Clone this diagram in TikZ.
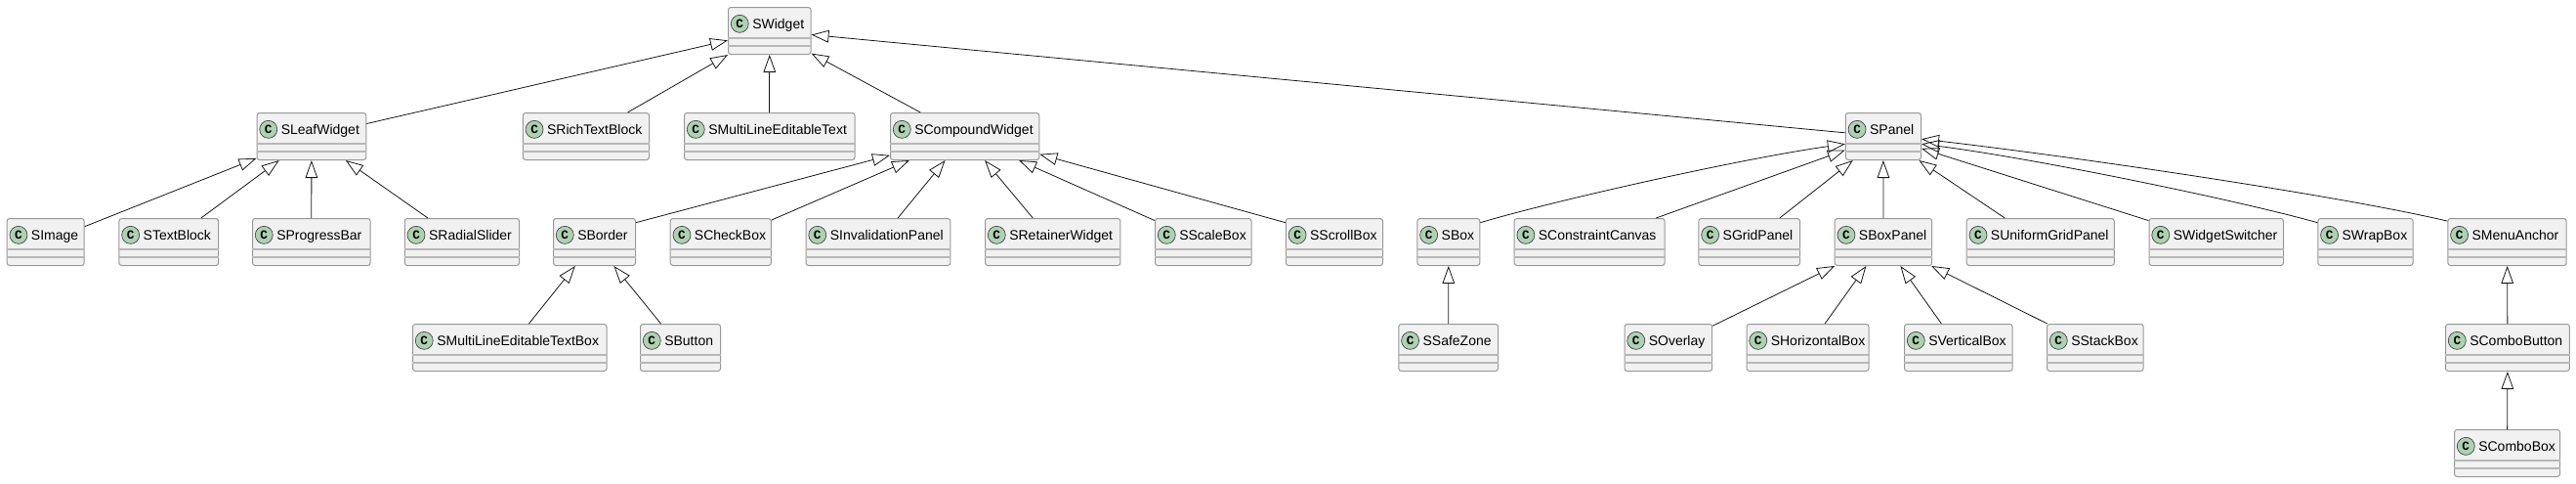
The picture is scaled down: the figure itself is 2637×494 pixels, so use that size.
\documentclass[tikz,border=0pt]{standalone}
\usepackage{fontspec}
\setmainfont{Liberation Sans}
\newfontfamily\cfont{Liberation Mono}
\usetikzlibrary{arrows.meta}
\definecolor{clsfill}{HTML}{F1F1F1}
\definecolor{clsborder}{HTML}{999999}
\definecolor{clsdiv}{HTML}{B8B8B8}
\definecolor{circfill}{HTML}{ADD1B2}
\definecolor{edgecol}{HTML}{181818}
\tikzset{
  cls/.style={rectangle, rounded corners=2pt, draw=clsborder, line width=0.75pt,
    fill=clsfill, minimum height=36pt, inner sep=0pt, anchor=north west},
  divider/.style={draw=clsdiv, line width=1.1pt},
  circ/.style={circle, draw=black!75, line width=0.5pt, fill=circfill,
    minimum size=13.5pt, inner sep=0pt, font=\cfont\bfseries\fontsize{9.5}{9.5}\selectfont},
  lbl/.style={anchor=base west, inner sep=0pt, font=\fontsize{10.5}{12}\selectfont},
  inh/.style={draw=edgecol, line width=0.6pt,
    -{Triangle[open, length=13.5pt, width=9.5pt, line width=0.6pt]}},
}
\newcommand\umlclass[5]{%
  \node[cls, minimum width={(#3-#2)*0.75pt}] (#1) at (#2,#4) {};
  \draw[divider] ([yshift=-24pt]#1.north west) -- ([yshift=-24pt]#1.north east);
  \draw[divider] ([yshift=-30pt]#1.north west) -- ([yshift=-30pt]#1.north east);
  \node[circ] at ([xshift=9.2pt,yshift=-13pt]#1.north west) {C};
  \node[lbl] at ([xshift=18.75pt,yshift=-16.7pt]#1.north west) {#5};
}
\begin{document}
\begin{tikzpicture}[x=0.75pt, y=-0.75pt]
\fill[white] (0,0) rectangle (2637,494);
\useasboundingbox (0,0) rectangle (2637,494);
% row 0
\umlclass{SWidget}{745}{829.5}{7}{SWidget}
% row 1
\umlclass{SLeafWidget}{262.5}{374.3}{115}{SLeafWidget}
\umlclass{SRichTextBlock}{534.8}{664}{115}{SRichTextBlock}
\umlclass{SMultiLineEditableText}{700}{874.5}{115}{SMultiLineEditableText}
\umlclass{SCompoundWidget}{911}{1063.3}{115}{SCompoundWidget}
\umlclass{SPanel}{1888.8}{1966}{115}{SPanel}
% row 2
\umlclass{SImage}{6.7}{85.7}{223}{SImage}
\umlclass{STextBlock}{121.4}{223}{223}{STextBlock}
\umlclass{SProgressBar}{258}{378.6}{223}{SProgressBar}
\umlclass{SRadialSlider}{413.8}{531}{223}{SRadialSlider}
\umlclass{SBorder}{566}{650}{223}{SBorder}
\umlclass{SCheckBox}{685.7}{788.8}{223}{SCheckBox}
\umlclass{SInvalidationPanel}{824.5}{972.4}{223}{SInvalidationPanel}
\umlclass{SRetainerWidget}{1008}{1146.4}{223}{SRetainerWidget}
\umlclass{SScaleBox}{1182}{1280.6}{223}{SScaleBox}
\umlclass{SScrollBox}{1315.8}{1415}{223}{SScrollBox}
\umlclass{SBox}{1450.4}{1514.3}{223}{SBox}
\umlclass{SConstraintCanvas}{1549.6}{1703.6}{223}{SConstraintCanvas}
\umlclass{SGridPanel}{1738.4}{1842}{223}{SGridPanel}
\umlclass{SBoxPanel}{1877.7}{1977.2}{223}{SBoxPanel}
\umlclass{SUniformGridPanel}{2012.7}{2163.8}{223}{SUniformGridPanel}
\umlclass{SWidgetSwitcher}{2199.5}{2337}{223}{SWidgetSwitcher}
\umlclass{SWrapBox}{2372.3}{2469.6}{223}{SWrapBox}
\umlclass{SMenuAnchor}{2505.3}{2626.7}{223}{SMenuAnchor}
% row 3
\umlclass{SMultiLineEditableTextBox}{422}{620.5}{331}{SMultiLineEditableTextBox}
\umlclass{SButton}{655}{737}{331}{SButton}
\umlclass{SSafeZone}{1431.3}{1533}{331}{SSafeZone}
\umlclass{SOverlay}{1662.5}{1752.2}{331}{SOverlay}
\umlclass{SHorizontalBox}{1787.5}{1912.5}{331}{SHorizontalBox}
\umlclass{SVerticalBox}{1949}{2059.6}{331}{SVerticalBox}
\umlclass{SStackBox}{2095}{2193.7}{331}{SStackBox}
\umlclass{SComboButton}{2503}{2629.9}{331}{SComboButton}
% row 4
\umlclass{SComboBox}{2512}{2620}{439}{SComboBox}

% edges to SWidget
\draw[inh] (SLeafWidget) -- (SWidget);
\draw[inh] (SRichTextBlock) -- (SWidget);
\draw[inh] (SMultiLineEditableText) -- (SWidget);
\draw[inh] (SCompoundWidget) -- (SWidget);
\draw[inh] (SPanel) -- (SWidget);
% edges to SLeafWidget
\draw[inh] (SImage) -- (SLeafWidget);
\draw[inh] (STextBlock) -- (SLeafWidget);
\draw[inh] (SProgressBar) -- (SLeafWidget);
\draw[inh] (SRadialSlider) -- (SLeafWidget);
% edges to SCompoundWidget
\draw[inh] ([yshift=-3.5pt]SBorder.north east) -- ([yshift=-14.5pt]SCompoundWidget.west);
\draw[inh] (SCheckBox) -- (SCompoundWidget);
\draw[inh] (SInvalidationPanel) -- (SCompoundWidget);
\draw[inh] (SRetainerWidget) -- (SCompoundWidget);
\draw[inh] (SScaleBox) -- (SCompoundWidget);
\draw[inh] ([yshift=-3.5pt]SScrollBox.north west) -- ([yshift=-13.7pt]SCompoundWidget.east);
% edges to SBorder
\draw[inh] (SMultiLineEditableTextBox) -- (SBorder);
\draw[inh] (SButton) -- (SBorder);
% edges to SPanel
\draw[inh] ([yshift=-3.5pt]SBox.north east) .. controls +(85,-25) and +(-100,14) .. ([yshift=-5.8pt]SPanel.west);
\draw[inh] (SConstraintCanvas) -- (SPanel);
\draw[inh] (SGridPanel) -- (SPanel);
\draw[inh] (SBoxPanel) -- (SPanel);
\draw[inh] (SUniformGridPanel) -- (SPanel);
\draw[inh] (SWidgetSwitcher) -- (SPanel);
\draw[inh] ([yshift=-3.5pt]SWrapBox.north west) .. controls +(-90,-25) and +(110,14) .. ([yshift=-5.8pt]SPanel.east);
\draw[inh] ([yshift=-2.3pt]SMenuAnchor.north west) .. controls +(-120,-28) and +(140,16) .. ([yshift=-2pt]SPanel.east);
% other
\draw[inh] (SSafeZone) -- (SBox);
\draw[inh] (SOverlay) -- (SBoxPanel);
\draw[inh] (SHorizontalBox) -- (SBoxPanel);
\draw[inh] (SVerticalBox) -- (SBoxPanel);
\draw[inh] (SStackBox) -- (SBoxPanel);
\draw[inh] (SComboButton) -- (SMenuAnchor);
\draw[inh] (SComboBox) -- (SComboButton);
\end{tikzpicture}
\end{document}
